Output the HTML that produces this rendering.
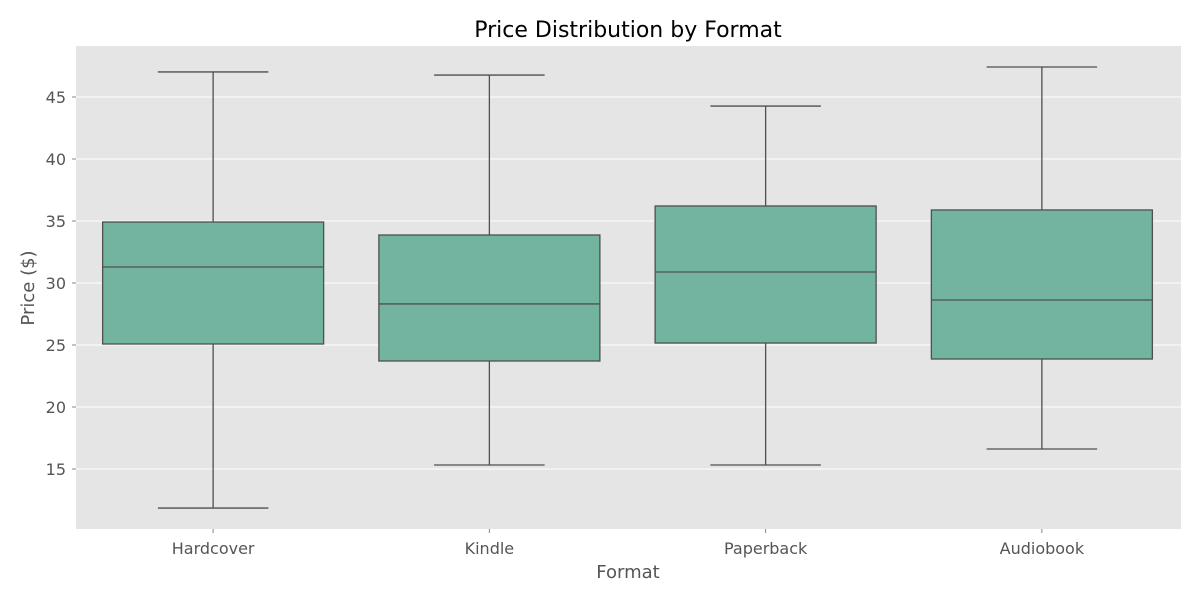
<!DOCTYPE html>
<html><head><meta charset="utf-8"><style>
body{margin:0;background:#fff;font-family:"Liberation Sans","DejaVu Sans",sans-serif}
</style></head><body>
<svg id="chart" width="1200" height="600" xmlns="http://www.w3.org/2000/svg" font-family="DejaVu Sans, Liberation Sans, sans-serif">
<rect width="1200" height="600" fill="#fff"/>
<rect x="76" y="46" width="1105" height="483" fill="#e5e5e5"/>
<g id="grid"></g><g id="yticks"></g><g id="boxes"></g><g id="xticks"></g>
<text x="628" y="37" text-anchor="middle" font-size="22" fill="#000">Price Distribution by Format</text>
<text x="628" y="578" text-anchor="middle" font-size="18" fill="#555">Format</text>
<text x="34" y="288" text-anchor="middle" font-size="18" fill="#555" transform="rotate(-90 34 288)">Price ($)</text>
</svg>
<script>
const categories=["Hardcover","Kindle","Paperback","Audiobook"];
const whiskerLow=[11.85,15.32,15.32,16.61];
const q1=[25.08,23.71,25.16,23.87];
const median=[31.29,28.31,30.89,28.63];
const q3=[34.92,33.87,36.21,35.89];
const whiskerHigh=[47.02,46.77,44.27,47.42];
const yTicks=[15,20,25,30,35,40,45];
const NS="http://www.w3.org/2000/svg";
const y=v=>97+(45-v)*12.4;
const band=1105/categories.length;
const x=i=>75+band*(i+0.5);
function mk(tag,attrs,parent){const e=document.createElementNS(NS,tag);for(const k in attrs)e.setAttribute(k,attrs[k]);document.getElementById(parent).appendChild(e);return e;}
yTicks.forEach(t=>{
  const g=mk('line',{x1:76,x2:1181,y1:y(t),y2:y(t),stroke:'#fff','stroke-width':1},'grid');
  
  
  const tk=mk('line',{x1:72,x2:76,y1:y(t),y2:y(t),stroke:'#888'},'yticks');
  
  
  const l=mk('text',{x:66,y:y(t)+6,'text-anchor':'end','font-size':16,fill:'#555'},'yticks');
  l.textContent=t;
  
  
});
const bw=band*0.8, cw=bw/2, ec='#4f4f4f';
categories.forEach((c,i)=>{
  const cx=x(i);
  const lines=[[cx,cx,y(whiskerLow[i]),y(q1[i]),'whisker-low'],[cx,cx,y(q3[i]),y(whiskerHigh[i]),'whisker-high'],
    [cx-cw/2,cx+cw/2,y(whiskerLow[i]),y(whiskerLow[i]),'cap-low'],[cx-cw/2,cx+cw/2,y(whiskerHigh[i]),y(whiskerHigh[i]),'cap-high']];
  lines.forEach(L=>{const e=mk('line',{x1:L[0],x2:L[1],y1:L[2],y2:L[3],stroke:ec,'stroke-width':1.3},'boxes');
    
    });
  const r=mk('rect',{x:cx-bw/2,y:y(q3[i]),width:bw,height:y(q1[i])-y(q3[i]),fill:'#72b4a0',stroke:ec,'stroke-width':1.3},'boxes');
  
  
  const m=mk('line',{x1:cx-bw/2,x2:cx+bw/2,y1:y(median[i]),y2:y(median[i]),stroke:ec,'stroke-width':1.3},'boxes');
  
  
  const tk=mk('line',{x1:cx,x2:cx,y1:529,y2:533,stroke:'#888'},'xticks');
  
  
  const l=mk('text',{x:cx,y:554,'text-anchor':'middle','font-size':16,fill:'#555'},'xticks');
  l.textContent=c;
  
  
});
</script>
</body></html>
